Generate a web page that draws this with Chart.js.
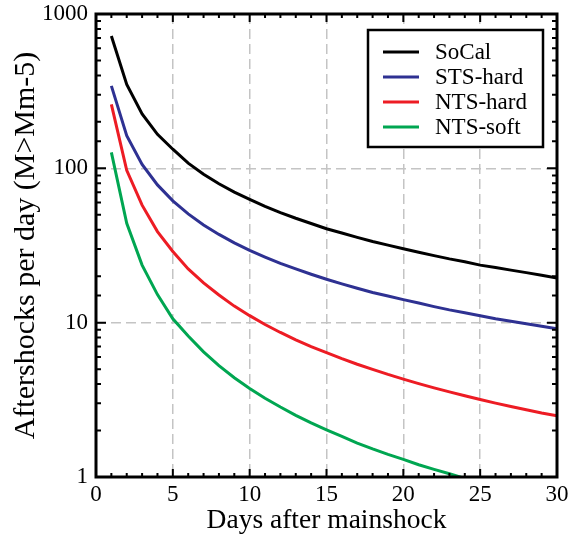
<!DOCTYPE html>
<html lang="en">
<head>
<meta charset="UTF-8">
<title>Aftershocks per day</title>
<script src="https://cdn.jsdelivr.net/npm/chart.js@4.4.2/dist/chart.umd.min.js"></script>
<style>
  html, body { margin: 0; padding: 0; background: #fff; }
  #wrap { width: 571px; height: 540px; }
</style>
</head>
<body>
<div id="wrap"><canvas id="rates" width="571" height="540"></canvas></div>
<script>
// daily aftershock rates, one value per day after the mainshock
const days = [1, 2, 3, 4, 5, 6, 7, 8, 9, 10, 11, 12, 13, 14, 15,
              16, 17, 18, 19, 20, 21, 22, 23, 24, 25, 26, 27, 28, 29, 30];
const socal = [720, 350, 225, 166, 133, 108, 91.5, 79.4, 70.1, 63, 56.7, 51.7, 47.5, 43.9, 40.6,
               38.1, 35.7, 33.6, 31.8, 30.1, 28.6, 27.2, 25.9, 24.8, 23.6, 22.8, 21.9, 21.1, 20.3, 19.5];
const stsHard = [342, 163, 106, 78.1, 61.6, 50.7, 43.0, 37.3, 32.9, 29.4, 26.6, 24.2, 22.3, 20.6, 19.1,
                 17.85, 16.7, 15.7, 14.9, 14.1, 13.4, 12.7, 12.1, 11.6, 11.1, 10.6, 10.2, 9.83, 9.48, 9.14];
const ntsHard = [260, 97, 57.7, 38.9, 28.9, 22.3, 18.1, 15.1, 12.8, 11.1, 9.73, 8.64, 7.74, 6.99, 6.40,
                 5.85, 5.38, 4.98, 4.62, 4.31, 4.03, 3.78, 3.56, 3.36, 3.18, 3.01, 2.86, 2.73, 2.60, 2.49];
const ntsSoft = [127, 44, 23.6, 15.2, 10.6, 8.19, 6.47, 5.27, 4.40, 3.75, 3.24, 2.84, 2.51, 2.24, 2.02,
                 1.83, 1.66, 1.52, 1.40, 1.30, 1.20, 1.12, 1.05, 0.98];

const xTickLabels = [0, 5, 10, 15, 20, 25, 30];
const yTickLabels = [1, 10, 100, 1000];

const serif = "'Liberation Serif', 'Times New Roman', serif";

function series(vals) {
  return vals.map((v, i) => ({ x: days[i], y: v }));
}

// inward tick marks on all four sides plus the heavy frame
const frameTicks = {
  id: 'frameTicks',
  afterDraw(chart) {
    const { ctx, chartArea: a, scales: { x, y } } = chart;
    ctx.save();
    ctx.strokeStyle = '#000';
    ctx.lineWidth = 2;
    ctx.beginPath();
    for (let v = 0; v <= 30; v++) {
      const px = x.getPixelForValue(v);
      const len = xTickLabels.includes(v) ? 8 : 4;
      ctx.moveTo(px, a.bottom); ctx.lineTo(px, a.bottom - len);
      ctx.moveTo(px, a.top); ctx.lineTo(px, a.top + len);
    }
    y.ticks.forEach(t => {
      const py = y.getPixelForValue(t.value);
      const len = yTickLabels.includes(t.value) ? 10 : 5;
      ctx.moveTo(a.left, py); ctx.lineTo(a.left + len, py);
      ctx.moveTo(a.right, py); ctx.lineTo(a.right - len, py);
    });
    ctx.stroke();
    ctx.lineWidth = 3;
    ctx.strokeRect(a.left, a.top, a.right - a.left, a.bottom - a.top);
    ctx.restore();
  }
};

// boxed legend in the upper right corner
const boxLegend = {
  id: 'boxLegend',
  afterDraw(chart) {
    const { ctx, chartArea: a } = chart;
    const w = 175, h = 117;
    const left = a.right - 14 - w, top = a.top + 16;
    ctx.save();
    ctx.fillStyle = '#fff';
    ctx.fillRect(left, top, w, h);
    ctx.strokeStyle = '#000';
    ctx.lineWidth = 2.5;
    ctx.strokeRect(left, top, w, h);
    ctx.font = '23px ' + serif;
    ctx.textBaseline = 'middle';
    ctx.textAlign = 'left';
    chart.data.datasets.forEach((ds, i) => {
      const cy = top + 22 + i * 25;
      ctx.strokeStyle = ds.borderColor;
      ctx.lineWidth = 3;
      ctx.beginPath();
      ctx.moveTo(left + 15, cy);
      ctx.lineTo(left + 51, cy);
      ctx.stroke();
      ctx.fillStyle = '#000';
      ctx.fillText(ds.label, left + 67, cy + 1);
    });
    ctx.restore();
  }
};

const lineStyle = { borderWidth: 3, pointRadius: 0, tension: 0, fill: false, clip: 0 };

new Chart(document.getElementById('rates'), {
  type: 'line',
  data: {
    datasets: [
      { label: 'SoCal', data: series(socal), borderColor: '#000000', ...lineStyle },
      { label: 'STS-hard', data: series(stsHard), borderColor: '#2e3192', ...lineStyle },
      { label: 'NTS-hard', data: series(ntsHard), borderColor: '#ed1c24', ...lineStyle },
      { label: 'NTS-soft', data: series(ntsSoft), borderColor: '#00a651', ...lineStyle }
    ]
  },
  options: {
    responsive: false,
    animation: false,
    events: [],
    layout: { padding: { top: 14, right: 14, left: 0, bottom: 0 } },
    plugins: { legend: { display: false }, tooltip: { enabled: false } },
    scales: {
      x: {
        type: 'linear',
        min: 0,
        max: 30,
        afterFit(scale) {
          scale.height = 63;
          scale.paddingLeft = 0;
          scale.paddingRight = 0;
        },
        ticks: {
          stepSize: 1,
          autoSkip: false,
          maxRotation: 0,
          padding: 4,
          color: '#000',
          font: { family: serif, size: 23 },
          callback: v => xTickLabels.includes(v) ? String(v) : ''
        },
        grid: {
          drawTicks: false,
          lineWidth: 1.5,
          color: c => (c.tick && xTickLabels.includes(c.tick.value) && c.tick.value > 0 && c.tick.value < 30)
            ? '#c4c4c4' : 'rgba(0,0,0,0)'
        },
        border: { display: false, dash: [10, 5] },
        title: {
          display: true,
          text: 'Days after mainshock',
          color: '#000',
          font: { family: serif, size: 27.5 },
          padding: { top: 0, bottom: 3 }
        }
      },
      y: {
        type: 'logarithmic',
        min: 1,
        max: 1000,
        afterFit(scale) {
          scale.width = 96;
          scale.paddingTop = 0;
          scale.paddingBottom = 0;
        },
        ticks: {
          autoSkip: false,
          padding: 8,
          color: '#000',
          font: { family: serif, size: 23 },
          callback: v => yTickLabels.includes(v) ? String(v) : ''
        },
        grid: {
          drawTicks: false,
          lineWidth: 1.5,
          color: c => (c.tick && (c.tick.value === 10 || c.tick.value === 100))
            ? '#c4c4c4' : 'rgba(0,0,0,0)'
        },
        border: { display: false, dash: [10, 5] },
        title: {
          display: true,
          text: 'Aftershocks per day (M>Mm-5)',
          color: '#000',
          font: { family: serif, size: 30 },
          padding: { top: 8, bottom: 0 }
        }
      }
    }
  },
  plugins: [frameTicks, boxLegend]
});
</script>
</body>
</html>
